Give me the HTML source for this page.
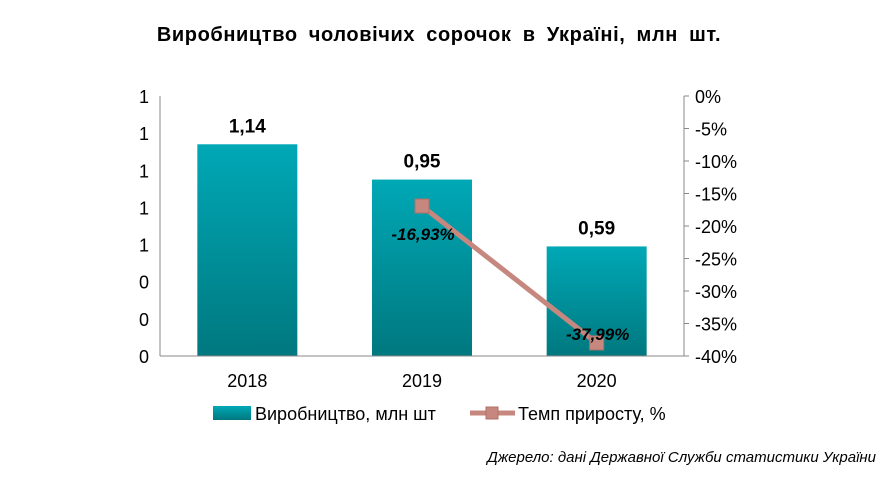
<!DOCTYPE html>
<html><head><meta charset="utf-8"><style>
body{margin:0;background:#fff;font-family:"Liberation Sans",sans-serif}
</style></head><body>
<svg width="896" height="472" xmlns="http://www.w3.org/2000/svg" font-family="Liberation Sans, sans-serif">
<defs><linearGradient id="bg" x1="0" y1="0" x2="0" y2="1"><stop offset="0" stop-color="#00a8b6"/><stop offset="1" stop-color="#00787f"/></linearGradient></defs>
<text x="439" y="41" text-anchor="middle" font-size="20" font-weight="bold" word-spacing="5" letter-spacing="0.6">Виробництво чоловічих сорочок в Україні, млн шт.</text>
<g id="g"></g>
<g>
<rect x="213" y="406" width="38" height="14" fill="url(#bg)"/>
<text x="255" y="420" font-size="18">Виробництво, млн шт</text>
<line x1="470" y1="413" x2="515" y2="413" stroke="#c6877f" stroke-width="5"/>
<rect x="486" y="407" width="12" height="12" fill="#c6877f" stroke="#b07068"/>
<text x="518" y="420" font-size="18">Темп приросту, %</text>
</g>
<text x="876" y="462" text-anchor="end" font-size="15" font-style="italic">Джерело: дані Державної Служби статистики України</text>
</svg>
<script>
const categories=["2018","2019","2020"];
const production=[1.14,0.95,0.59];
const productionLabels=["1,14","0,95","0,59"];
const growth=[null,-16.93,-37.99];
const growthLabels=["","-16,93%","-37,99%"];
const leftTicks=[0,0.2,0.4,0.6,0.8,1.0,1.2,1.4];
const leftTickLabels=["0","0","0","1","1","1","1","1"];
const rightTicks=[0,-5,-10,-15,-20,-25,-30,-35,-40];
const rightTickLabels=["0%","-5%","-10%","-15%","-20%","-25%","-30%","-35%","-40%"];
const NS="http://www.w3.org/2000/svg";
const g=document.getElementById('g');
const X0=160,X1=684,Y0=356,Y1=96;
const band=(X1-X0)/categories.length;
const xc=i=>X0+band*(i+0.5);
const yL=v=>Y0-(v/1.4)*(Y0-Y1);
const yR=v=>Y1+(v/-40)*(Y0-Y1);
function mk(t,a,txt){const e=document.createElementNS(NS,t);for(const k in a)e.setAttribute(k,a[k]);if(txt!=null)e.textContent=txt;g.appendChild(e);return e;}
leftTicks.forEach((v,i)=>{const e=mk('text',{x:144,y:yL(v)+7,'text-anchor':'middle','font-size':18},leftTickLabels[i]);

});
rightTicks.forEach((v,i)=>{const e=mk('text',{x:695,y:yR(v)+7,'font-size':18},rightTickLabels[i]);


const t=mk('line',{x1:X1,x2:X1+5,y1:yR(v),y2:yR(v),stroke:'#888'});

});
categories.forEach((c,i)=>{
const b=mk('rect',{x:xc(i)-50,y:yL(production[i]),width:100,height:Y0-yL(production[i]),fill:'url(#bg)'});


const l=mk('text',{x:xc(i),y:yL(production[i])-12,'text-anchor':'middle','font-size':19,'font-weight':'bold'},productionLabels[i]);


const xl=mk('text',{x:xc(i),y:387,'text-anchor':'middle','font-size':18},c);

});
const a1=mk('line',{x1:X0,x2:X0,y1:Y1,y2:Y0,stroke:'#888'});


const a2=mk('line',{x1:X1,x2:X1,y1:Y1,y2:Y0,stroke:'#888'});


const a3=mk('line',{x1:X0,x2:X1,y1:Y0,y2:Y0,stroke:'#888'});


const pts=[];growth.forEach((v,i)=>{if(v!=null)pts.push([xc(i),yR(v)]);});
const pl=mk('polyline',{points:pts.map(p=>p.join(',')).join(' '),fill:'none',stroke:'#c6877f','stroke-width':5});


growth.forEach((v,i)=>{if(v==null)return;
const m=mk('rect',{x:xc(i)-7,y:yR(v)-7,width:14,height:14,fill:'#c6877f',stroke:'#b07068'});


const t=mk('text',{x:xc(i)+1,y:yR(v)+34-(i==2?37:0),'text-anchor':'middle','font-size':17,'font-weight':'bold','font-style':'italic'},growthLabels[i]);

});
</script>
</body></html>
